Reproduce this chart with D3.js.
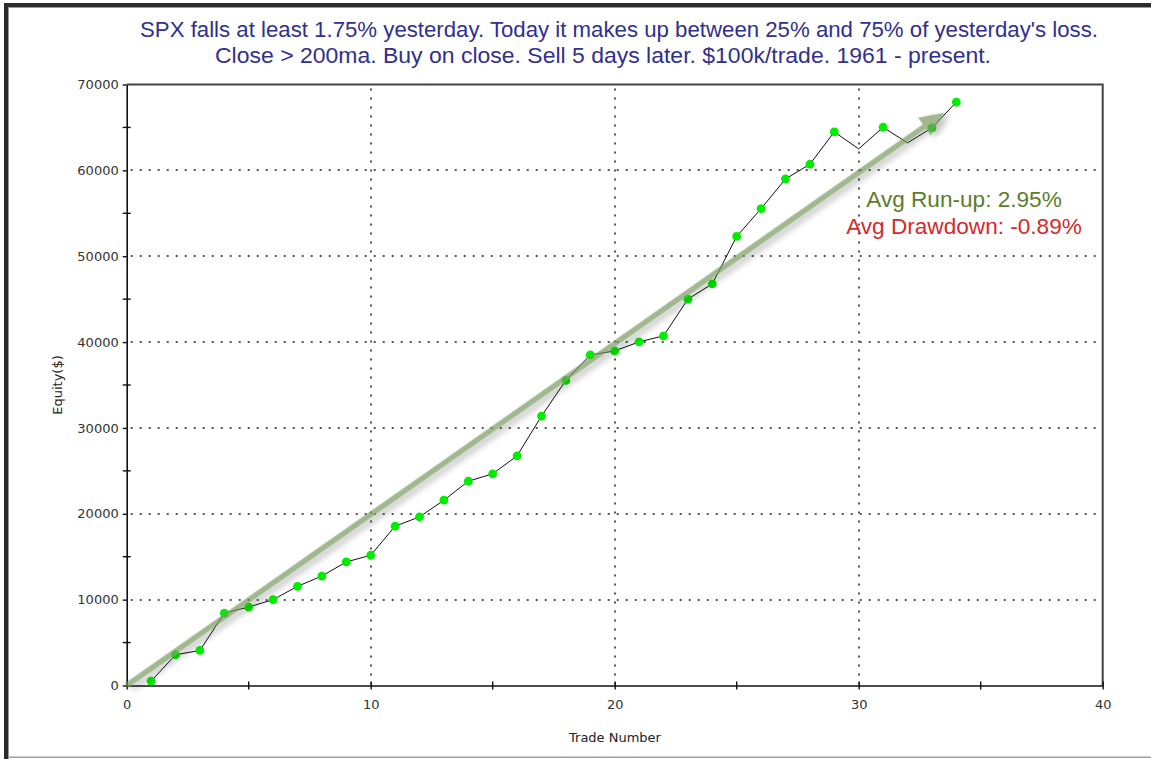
<!DOCTYPE html>
<html><head><meta charset="utf-8">
<script src="https://cdn.jsdelivr.net/npm/d3@7"></script>
<style>body{margin:0;background:#fff} svg{display:block}</style>
</head><body>
<script>
// ---- data ----
const titleLines = [
  "SPX falls at least 1.75% yesterday. Today it makes up between 25% and 75% of yesterday's loss.",
  "Close > 200ma. Buy on close. Sell 5 days later. $100k/trade. 1961 - present."
];
const tradeNumbers = [1,2,3,4,5,6,7,8,9,10,11,12,13,14,15,16,17,18,19,20,21,22,23,24,25,26,27,28,29,30,31,32,33,34];
const equity = [500,3580,4080,8440,9140,10000,11550,12750,14390,15170,18550,19640,21580,23800,24650,26750,31380,35550,38500,38970,40020,40720,45000,46780,52300,55540,59000,60710,64480,62500,65020,63200,64950,67940];
const xTickValues = [0,10,20,30,40];
const xMinorTicks = [5,15,25,35];
const yTickValues = [0,10000,20000,30000,40000,50000,60000,70000];
const yMinorTicks = [5000,15000,25000,35000,45000,55000,65000];
const trendStart = [0,0];
const trendEnd = [33.5,66700];
const statLabels = ["Avg Run-up: 2.95%","Avg Drawdown: -0.89%"];
const statColors = ["#5b7d2c","#d42a2a"];

// ---- layout ----
const W=1151,H=759;
const svg=d3.select("body").append("svg").attr("width",W).attr("height",H);
svg.append("rect").attr("width",W).attr("height",H).attr("fill","#fff");
// outer window border
svg.append("rect").attr("x",4).attr("y",3).attr("width",W-4).attr("height",4).attr("fill","#2b2b2b");
svg.append("rect").attr("x",4).attr("y",3).attr("width",4).attr("height",H-3).attr("fill","#2b2b2b");
svg.append("rect").attr("x",8).attr("y",7).attr("width",W-8).attr("height",1).attr("fill","#9a9a9a");
svg.append("rect").attr("x",8).attr("y",7).attr("width",1).attr("height",H-7).attr("fill","#9a9a9a");
svg.append("rect").attr("x",8).attr("y",756.5).attr("width",W-8).attr("height",1.5).attr("fill","#a0a0a0");

const x=d3.scaleLinear().domain([0,40]).range([126.7,1102.7]);
const y=d3.scaleLinear().domain([0,70000]).range([685.5,84.5]);

// title
const titleX=[619,603], titleY=[37,63], titleLen=[958,776];
svg.selectAll("text.title").data(titleLines).enter().append("text")
  .attr("class","title").attr("x",(d,i)=>titleX[i]).attr("y",(d,i)=>titleY[i])
  .attr("text-anchor","middle").attr("fill","#30308e")
  .attr("textLength",(d,i)=>titleLen[i]).attr("lengthAdjust","spacingAndGlyphs")
  .style("font-family","'Liberation Sans',Arial,sans-serif").style("font-size","21.5px")
  .text(d=>d);

// grid
const grid=svg.append("g").attr("stroke","#555").attr("stroke-width",2).attr("stroke-dasharray","2,7");
grid.selectAll("line.gx").data(xTickValues.filter(v=>v>0&&v<40)).enter().append("line")
  .attr("x1",d=>Math.round(x(d))).attr("x2",d=>Math.round(x(d))).attr("y1",y(70000)+4).attr("y2",y(0));
grid.selectAll("line.gy").data(yTickValues.filter(v=>v>0&&v<70000)).enter().append("line")
  .attr("y1",d=>Math.round(y(d))).attr("y2",d=>Math.round(y(d))).attr("x1",x(0)+4).attr("x2",x(40));

// frame top/right
svg.append("path").attr("d",`M${x(0)},${y(70000)}H${x(40)}V${y(0)}`)
  .attr("fill","none").attr("stroke","#444").attr("stroke-width",2);

const tickFont=g=>g.selectAll("text").attr("fill","#333").style("font-family","'DejaVu Sans',Verdana,sans-serif").style("font-size","13px");

// axes
const yAxis=svg.append("g").attr("transform",`translate(${x(0)},0)`)
  .call(d3.axisLeft(y).tickValues(yTickValues).tickSize(4).tickSizeOuter(0).tickPadding(4).tickFormat(d3.format("d")));
yAxis.call(tickFont);
yAxis.select(".domain").attr("stroke","#111").attr("stroke-width",1.6);
yAxis.selectAll(".tick line").attr("x1",-4).attr("x2",0).attr("stroke","#111").attr("stroke-width",1.4);
yAxis.selectAll("line.minor").data(yMinorTicks).enter().append("line").attr("class","minor")
  .attr("x1",-4).attr("x2",4).attr("y1",d=>y(d)).attr("y2",d=>y(d)).attr("stroke","#111").attr("stroke-width",1.4);

const xAxis=svg.append("g").attr("transform",`translate(0,${y(0)})`)
  .call(d3.axisBottom(x).tickValues(xTickValues).tickSize(4).tickSizeOuter(0).tickPadding(10));
xAxis.call(tickFont);
xAxis.select(".domain").attr("stroke","#111").attr("stroke-width",1.6);
xAxis.selectAll(".tick line").attr("y1",-4).attr("y2",4).attr("stroke","#111").attr("stroke-width",1.4);
xAxis.selectAll("line.minor").data(xMinorTicks).enter().append("line").attr("class","minor")
  .attr("y1",-4).attr("y2",4).attr("x1",d=>x(d)).attr("x2",d=>x(d)).attr("stroke","#111").attr("stroke-width",1.4);

// axis titles
svg.append("text").attr("x",615).attr("y",742).attr("text-anchor","middle").attr("fill","#222")
  .style("font-family","'DejaVu Sans',Verdana,sans-serif").style("font-size","13px").text("Trade Number");
svg.append("text").attr("transform","translate(62,385) rotate(-90)").attr("text-anchor","middle").attr("fill","#222")
  .style("font-family","'DejaVu Sans',Verdana,sans-serif").style("font-size","13px").text("Equity($)");

// equity line
const pts=tradeNumbers.map((t,i)=>({t,v:equity[i],up:i===0||equity[i]>=equity[i-1]}));
svg.append("path").datum(pts).attr("fill","none").attr("stroke","#111").attr("stroke-width",1)
  .attr("d",d3.line().x(d=>x(d.t)).y(d=>y(d.v)));
svg.selectAll("circle.pt").data(pts.filter(d=>d.up)).enter().append("circle").attr("class","pt")
  .attr("cx",d=>x(d.t)).attr("cy",d=>y(d.v)).attr("r",4.4).attr("fill","#00ee00");

// trend arrow
const defs=svg.append("defs");
const f=defs.append("filter").attr("id","sh").attr("x","-20%").attr("y","-20%").attr("width","140%").attr("height","140%");
f.append("feDropShadow").attr("dx",3).attr("dy",5).attr("stdDeviation",3).attr("flood-color","#000").attr("flood-opacity",0.35);
const x0=x(trendStart[0]),y0=y(trendStart[1]),x1=x(trendEnd[0]),y1=y(trendEnd[1]);
const ang=Math.atan2(y1-y0,x1-x0), L=Math.hypot(x1-x0,y1-y0);
const headLen=24, headW=11, sw=5.5;
const ag=svg.append("g").attr("filter","url(#sh)").attr("opacity",0.7)
  .attr("transform",`translate(${x0},${y0}) rotate(${ang*180/Math.PI})`);
ag.append("path").attr("fill","#789a60")
  .attr("d",`M0,${-sw/2}L${L-headLen},${-sw/2}L${L-headLen},${-headW}L${L},0L${L-headLen},${headW}L${L-headLen},${sw/2}L0,${sw/2}Z`);

// stats text
svg.selectAll("text.stat").data(statLabels).enter().append("text").attr("class","stat")
  .attr("x",964).attr("y",(d,i)=>207+i*27).attr("text-anchor","middle")
  .attr("fill",(d,i)=>statColors[i])
  .style("font-family","'Liberation Sans',Arial,sans-serif").style("font-size","22.6px").text(d=>d);
</script>
</body></html>
